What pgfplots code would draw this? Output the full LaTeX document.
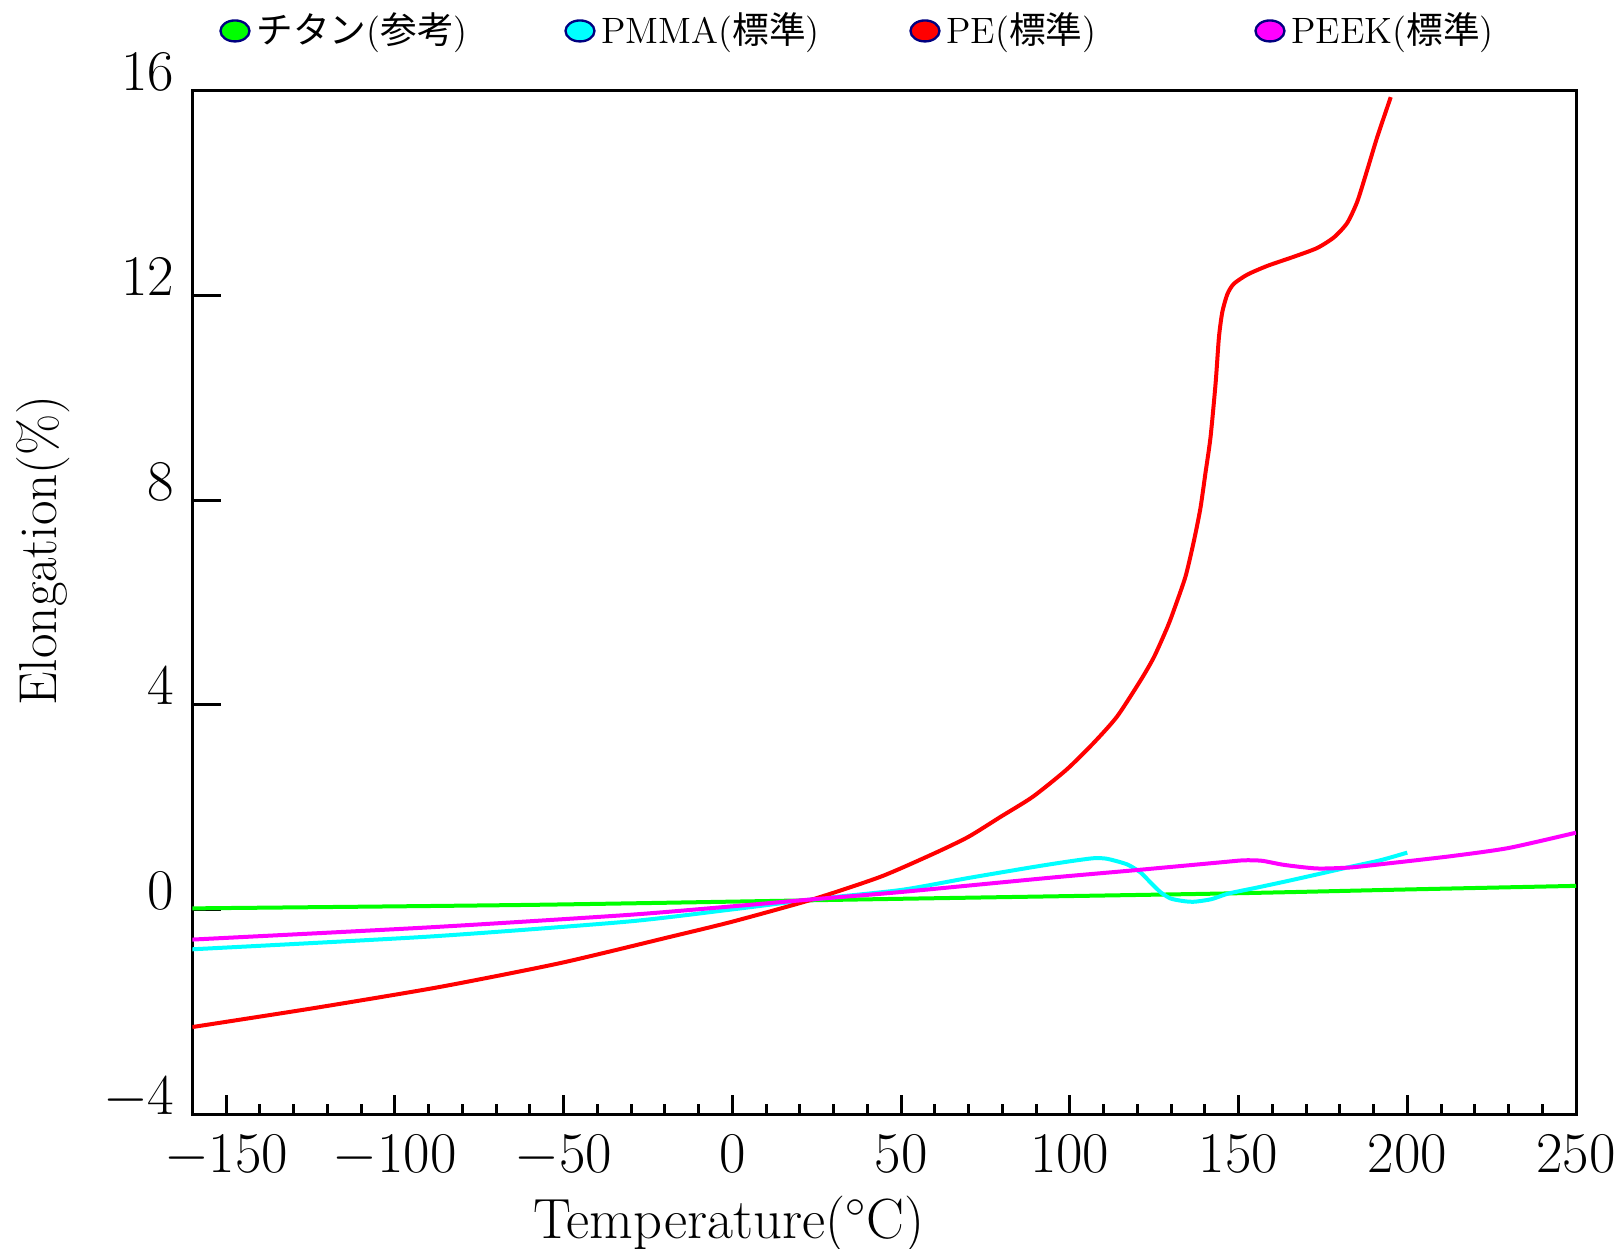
\documentclass[border=0pt]{standalone}
\usepackage{fontspec}
\usepackage{pgfplots}
\pgfplotsset{compat=1.18}
\newfontfamily\cjk{Noto Sans CJK JP}
\definecolor{ngreen}{RGB}{0,255,0}
\definecolor{ncyan}{RGB}{0,255,255}
\definecolor{nred}{RGB}{255,0,0}
\definecolor{nmag}{RGB}{255,0,255}
\definecolor{navyc}{RGB}{0,0,128}
\begin{document}
\begin{tikzpicture}
\begin{axis}[
 at={(0,0)}, anchor=south west,
 scale only axis, width=415.1pt, height=306.9pt,
 xmin=-160, xmax=250, ymin=-4, ymax=16,
 xtick={-150,-100,...,250}, minor x tick num=4,
 ytick={-4,0,4,8,12,16},
 axis line style={line width=0.9pt},
 tick style={black, line width=0.9pt},
 tick align=inside, xtick pos=left, ytick pos=left,
 major tick length=5.7pt, minor tick length=3pt,
 ytick style={draw=none},
 tick label style={font=\fontsize{16.3}{18}\selectfont},
 xticklabel style={inner sep=0pt, yshift=-6.3pt},
 yticklabel style={anchor=base east, inner sep=0pt, xshift=-5.2pt},
 xlabel={Temperature($^{\circ}$C)}, ylabel={Elongation(\%)},
 xlabel style={font=\fontsize{17}{19}\selectfont, at={(axis description cs:0.388,-0.122)}, anchor=base},
 ylabel style={font=\fontsize{16}{19}\selectfont, at={(axis description cs:-0.1075,0.551)}, anchor=center},
 legend columns=4,
 legend cell align=left,
 legend style={at={(axis description cs:0.0195,1.0587)}, anchor=west, draw=none, fill=none,
   inner sep=0pt, outer sep=0pt, font=\fontsize{11}{13}\selectfont,
   nodes={text width=90.6pt, inner xsep=1.75pt, inner ysep=0pt, align=left}},
 legend image code/.code={\filldraw[#1, draw=navyc, line width=0.7pt, solid] (4.35pt,0pt) ellipse [x radius=4.35pt, y radius=3.15pt];},
]
\pgfplotsinvokeforeach{-4,0,4,8,12,16}{\draw[line width=0.9pt] (axis cs:-160,#1) -- ([xshift=8.7pt]axis cs:-160,#1);}
\addplot[color=ngreen, line width=1.2pt, smooth, tension=0.4] coordinates {
(-160,0.02) (-58,0.09) (43,0.20) (145,0.31) (200,0.39) (250,0.46)};
\addlegendentry{{\cjk チタン}({\cjk 参考})}
\addplot[color=ncyan, line width=1.2pt, smooth, tension=0.4] coordinates {
(-160,-0.78) (-89.5,-0.53) (-31.3,-0.24) (0,0.0) (24.3,0.20) (50,0.38) (69.6,0.61) (89.3,0.83) (100,0.94) (107,1.00) (111,0.99) (117,0.88) (121,0.72) (124,0.52) (127,0.33) (130,0.21) (134,0.16) (137,0.15) (142,0.20) (147,0.31) (155,0.42) (163.5,0.54) (173,0.68) (183,0.83) (192,0.96) (200,1.11)};
\addlegendentry{PMMA({\cjk 標準})}
\addplot[color=nred, line width=1.2pt, smooth, tension=0.4] coordinates {
(-160,-2.30) (-124,-1.93) (-87,-1.52) (-51,-1.05) (-18,-0.53) (0,-0.24) (24,0.20) (44,0.64) (60,1.10) (70,1.42) (79.5,1.81) (89,2.20) (99,2.73) (107,3.25) (114,3.77) (121,4.48) (125,4.94) (129,5.53) (131,5.88) (134.3,6.51) (136.8,7.21) (138.7,7.84) (140.2,8.53) (141.7,9.23) (143.2,10.28) (144.2,11.19) (145.2,11.68) (146.7,12.03) (148.6,12.23) (152.6,12.41) (158.5,12.58) (166.4,12.76) (173.3,12.93) (178.3,13.14) (182.2,13.42) (185.2,13.84) (188.2,14.47) (191.1,15.10) (195.1,15.88)};
\addlegendentry{PE({\cjk 標準})}
\addplot[color=nmag, line width=1.2pt, smooth, tension=0.4] coordinates {
(-160,-0.59) (-89.5,-0.35) (-31.3,-0.11) (0,0.06) (24.3,0.20) (50,0.34) (94.3,0.62) (120,0.77) (144.7,0.92) (151.6,0.96) (157,0.95) (163.5,0.87) (173.3,0.80) (183.2,0.82) (193.1,0.89) (212.9,1.04) (230,1.20) (250,1.50)};
\addlegendentry{PEEK({\cjk 標準})}
\end{axis}
\pgfresetboundingbox
\path[use as bounding box] (-57.7pt,-40.2pt) rectangle (428.9pt,334.2pt);
\end{tikzpicture}
\end{document}
